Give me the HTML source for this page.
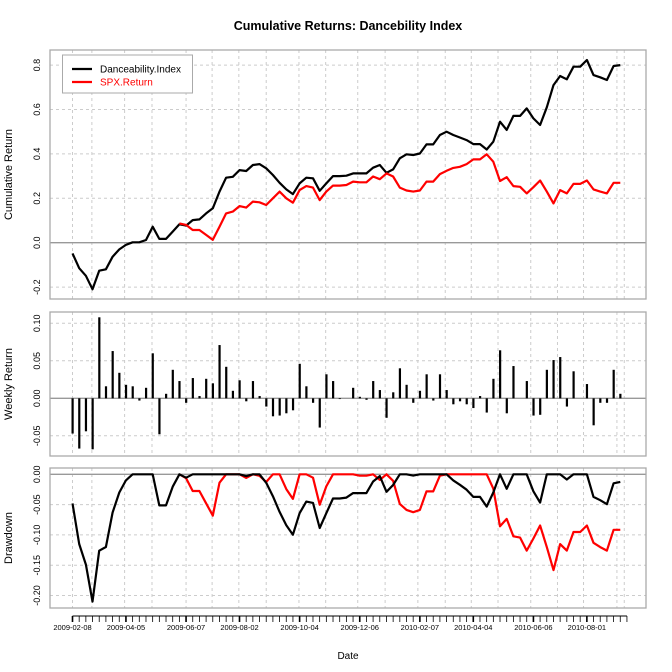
<!DOCTYPE html>
<html><head><meta charset="utf-8"><style>
body{margin:0;background:#fff}
svg{display:block;font-family:"Liberation Sans",sans-serif}
</style></head><body>
<svg id="c" width="672" height="672" viewBox="0 0 672 672"></svg>
<script>
const dateLabels=["2009-02-08","2009-04-05","2009-06-07","2009-08-02","2009-10-04","2009-12-06","2010-02-07","2010-04-04","2010-06-06","2010-08-01"];
const majorWeeks=[0,8,17,25,34,43,52,60,69,77];
const gridWeeks=[0,2.9,7.8,11.9,17,20.9,24.9,29,33.9,37.9,42.7,46.8,51.7,55.8,59.7,63.7,68.6,72.6,76.5,81.5,82.6];
const danceReturns=[-0.047,-0.067,-0.044,-0.068,0.108,0.016,0.063,0.034,0.018,0.016,-0.003,0.014,0.060,-0.048,0.006,0.038,0.023,-0.006,0.027,0.003,0.026,0.020,0.071,0.042,0.010,0.024,-0.004,0.023,0.003,-0.011,-0.024,-0.023,-0.020,-0.016,0.046,0.016,-0.006,-0.039,0.032,0.023,-0.001,0,0.014,0.002,-0.002,0.023,0.011,-0.026,0.008,0.040,0.018,-0.006,0.010,0.032,-0.003,0.032,0.011,-0.008,-0.004,-0.008,-0.013,0.003,-0.019,0.026,0.064,-0.020,0.043,0,0.023,-0.023,-0.022,0.038,0.051,0.055,-0.011,0.036,0,0.019,-0.036,-0.006,-0.006,0.038,0.006];
const danceCumulative=[-0.048,-0.115,-0.149,-0.210,-0.126,-0.120,-0.063,-0.030,-0.010,0.002,0.002,0.012,0.072,0.017,0.017,0.05,0.083,0.077,0.102,0.105,0.132,0.155,0.230,0.293,0.297,0.327,0.323,0.350,0.354,0.335,0.305,0.270,0.240,0.219,0.267,0.293,0.290,0.234,0.267,0.300,0.300,0.302,0.312,0.312,0.312,0.338,0.350,0.315,0.330,0.380,0.398,0.395,0.402,0.443,0.443,0.485,0.500,0.485,0.474,0.462,0.444,0.444,0.420,0.455,0.545,0.508,0.571,0.571,0.605,0.560,0.530,0.610,0.710,0.751,0.736,0.793,0.793,0.823,0.755,0.745,0.733,0.796,0.800];
const spxStart=16;
const spxCumulative=[0.087,0.080,0.057,0.057,0.035,0.013,0.072,0.132,0.140,0.165,0.158,0.185,0.182,0.170,0.200,0.230,0.200,0.180,0.237,0.255,0.248,0.192,0.230,0.257,0.257,0.26,0.275,0.272,0.272,0.298,0.286,0.312,0.298,0.248,0.235,0.230,0.235,0.275,0.275,0.309,0.324,0.337,0.342,0.354,0.375,0.375,0.398,0.365,0.278,0.295,0.255,0.252,0.222,0.25,0.28,0.23,0.177,0.237,0.222,0.265,0.265,0.28,0.24,0.23,0.222,0.27,0.27];
const cumTicks=[-0.2,0,0.2,0.4,0.6,0.8], cumTickLabels=["-0.2","0.0","0.2","0.4","0.6","0.8"];
const retTicks=[-0.05,0,0.05,0.10], retTickLabels=["-0.05","0.00","0.05","0.10"];
const ddTicks=[-0.20,-0.15,-0.10,-0.05,0], ddTickLabels=["-0.20","-0.15","-0.10","-0.05","0.00"];

const NS="http://www.w3.org/2000/svg", svg=document.getElementById('c');
function el(t,a,p){const e=document.createElementNS(NS,t);for(const k in a)e.setAttribute(k,a[k]);(p||svg).appendChild(e);return e;}
const X=w=>72.5+6.68*w;
const Y1=v=>242.7-v*222, Y2=v=>398.3-v*750, Y3=v=>474.3-v*606;
const L=50,R=646;
const panels=[{t:50,b:299,y:Y1,ticks:cumTicks,lab:cumTickLabels,title:"Cumulative Return",name:"cumulative"},
{t:312,b:456,y:Y2,ticks:retTicks,lab:retTickLabels,title:"Weekly Return",name:"weekly"},
{t:468,b:608,y:Y3,ticks:ddTicks,lab:ddTickLabels,title:"Drawdown",name:"drawdown"}];
panels.forEach(p=>{
 const g=el('g',{});
 
 
 gridWeeks.forEach(w=>{const l=el('line',{x1:X(w),x2:X(w),y1:p.t,y2:p.b,stroke:'#ccc','stroke-dasharray':'3,3'},g);
  });
 p.ticks.forEach((v,i)=>{const y=p.y(v);
  if(Math.abs(v)>1e-9){const l=el('line',{x1:L,x2:R,y1:y,y2:y,stroke:'#ccc','stroke-dasharray':'3,3'},g);
   }
  const t=el('text',{x:40,y:y,'font-size':'9','text-anchor':'middle',transform:`rotate(-90 40 ${y})`},g);t.textContent=p.lab[i];
  });
 const z=el('line',{x1:L,x2:R,y1:p.y(0),y2:p.y(0),stroke:'#999','stroke-width':1.3},g);
 
 const r=el('rect',{x:L,y:p.t,width:R-L,height:p.b-p.t,fill:'none',stroke:'#aaa','stroke-width':1.3},g);
 
 const cy=(p.t+p.b)/2;
 const tt=el('text',{x:12,y:cy,'font-size':'11','text-anchor':'middle',transform:`rotate(-90 12 ${cy})`},g);tt.textContent=p.title;
 
 p.g=g;
});
function dd(c){let m=1;return c.map(v=>{m=Math.max(m,1+v);return (1+v)/m-1;});}
const dDD=dd(danceCumulative), sDD=dd(spxCumulative);
function line(vals,off,yf,col,g,name){const pts=vals.map((v,i)=>X(i+off).toFixed(1)+','+yf(v).toFixed(1)).join(' ');
 const e=el('polyline',{points:pts,fill:'none',stroke:col,'stroke-width':2.2,'stroke-linejoin':'round'},g);
 }
line(danceCumulative,0,Y1,'#000',panels[0].g,'danceability-cumulative-line');
line(spxCumulative,spxStart,Y1,'#f00',panels[0].g,'spx-cumulative-line');
danceReturns.forEach((v,i)=>{const b=el('rect',{x:X(i)-1,y:Math.min(Y2(v),Y2(0)),width:2.2,height:Math.abs(Y2(v)-Y2(0)),fill:'#000'},panels[1].g);
 });
line(sDD,spxStart,Y3,'#f00',panels[2].g,'spx-drawdown-line');
line(dDD,0,Y3,'#000',panels[2].g,'danceability-drawdown-line');
const ax=el('g',{});
el('line',{x1:X(0),x2:X(83),y1:616,y2:616,stroke:'#000'},ax);
for(let i=0;i<=83;i++){const m=majorWeeks.includes(i);el('line',{x1:X(i),x2:X(i),y1:616,y2:622,stroke:'#000','stroke-width':m?1.6:0.8},ax);}
majorWeeks.forEach((wk,i)=>{const t=el('text',{x:X(wk),y:630,'font-size':'7.5','text-anchor':'middle'},ax);t.textContent=dateLabels[i];
 });
const dt=el('text',{x:348,y:659,'font-size':'10','text-anchor':'middle'});dt.textContent='Date';

const ti=el('text',{x:348,y:30,'font-size':'12.5','font-weight':'bold','text-anchor':'middle'});ti.textContent='Cumulative Returns: Dancebility Index';

const lg=el('g',{});
el('rect',{x:62.5,y:55,width:130,height:38,fill:'#fff',stroke:'#aaa'},lg);
[["Danceability.Index","#000",69],["SPX.Return","#f00",82]].forEach(([n,c,y])=>{
 const e=el('g',{},lg);
 el('line',{x1:72,x2:92,y1:y,y2:y,stroke:c,'stroke-width':2.2},e);
 const t=el('text',{x:100,y:y+3.5,'font-size':'10',fill:c},e);t.textContent=n;});
</script>
</body></html>
